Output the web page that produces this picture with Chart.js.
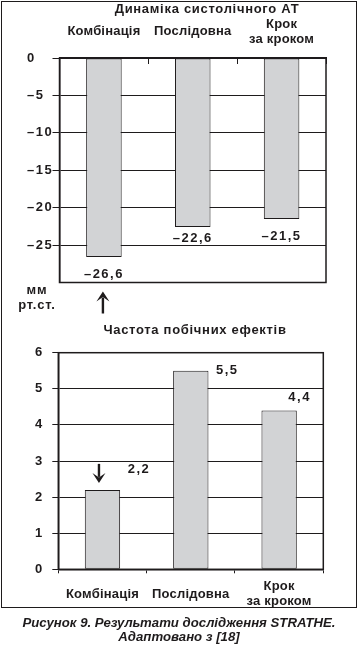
<!DOCTYPE html>
<html><head><meta charset="utf-8">
<script src="https://cdn.jsdelivr.net/npm/chart.js@4.4.1/dist/chart.umd.min.js"></script>
<style>
html,body{margin:0;padding:0;background:#fff;width:358px;height:645px;overflow:hidden;}
#frame{position:absolute;left:1px;top:1px;width:356px;height:607px;border:1.5px solid #1e1b1c;box-sizing:border-box;}
#c1{position:absolute;left:0;top:0;}
#c2{position:absolute;left:0;top:310px;}
#cap{position:absolute;left:0;top:616px;width:358px;text-align:center;font:italic bold 13.2px "Liberation Sans",Arial,sans-serif;line-height:14px;color:#1e1b1c;}
</style></head><body>
<div id="frame"></div>
<canvas id="c1" width="358" height="320" style="width:358px;height:320px"></canvas>
<canvas id="c2" width="358" height="300" style="width:358px;height:300px"></canvas>
<div id="cap">Рисунок 9. Результати дослідження STRATHE.<br>Адаптовано з [18]</div>
<script>
// ---- data ----
const categories = ['Комбінація', 'Послідовна', 'Крок\nза кроком'];
const bpChange = [-26.6, -22.6, -21.5];          // мм рт.ст.
const sideEffects = [2.2, 5.5, 4.4];             // частота побічних ефектів
const bpTitle = 'Динаміка систолічного АТ';
const seTitle = 'Частота побічних ефектів';
const unitLabel = ['мм', 'рт.ст.'];

const INK = '#1e1b1c';
const BAR = '#d2d3d5';
const FONT = '"Liberation Sans", Arial, sans-serif';
const labels = categories.map(c => c.split('\n'));
const fmt = v => String(v).replace('.', ',').replace('-', '–');

function spacingPlugin(id) {
  return {
    id: id,
    beforeDraw(chart) {
      chart.ctx.letterSpacing = '0.2px';
      const s = chart.scales.y;
      if (s && !s.__wrapped) {
        const orig = s.drawLabels;
        s.drawLabels = function (a) {
          const c = this.ctx; c.save(); c.letterSpacing = '1.5px'; orig.call(this, a); c.restore();
        };
        s.__wrapped = true;
      }
    }
  };
}
function boxPlugin(id) {
  return {
    id: id,
    afterDatasetsDraw(chart) {
      const {ctx, chartArea: a} = chart;
      ctx.save();
      ctx.strokeStyle = INK; ctx.lineWidth = 1.5;
      ctx.strokeRect(a.left, a.top, a.right - a.left, a.bottom - a.top);
      ctx.restore();
    }
  };
}
function arrow(ctx, x, yTail, yTip) {
  const dir = yTip > yTail ? 1 : -1;
  const headLen = 10, headHalf = 6.5;
  ctx.save();
  ctx.strokeStyle = INK; ctx.fillStyle = INK; ctx.lineWidth = 2.4;
  ctx.beginPath(); ctx.moveTo(x, yTail); ctx.lineTo(x, yTip - dir * headLen * 0.6); ctx.stroke();
  ctx.beginPath();
  ctx.moveTo(x, yTip);
  ctx.lineTo(x - headHalf, yTip - dir * headLen);
  ctx.lineTo(x, yTip - dir * headLen * 0.55);
  ctx.lineTo(x + headHalf, yTip - dir * headLen);
  ctx.closePath(); ctx.fill();
  ctx.restore();
}

const tickFont = {family: FONT, size: 13, weight: 'bold', lineHeight: '15px'};

// ---- top chart ----
const topAnno = {
  id: 'topAnno',
  afterDraw(chart) {
    const {ctx, chartArea: a} = chart;
    const meta = chart.getDatasetMeta(0);
    ctx.save();
    ctx.fillStyle = INK;
    ctx.textAlign = 'center'; ctx.textBaseline = 'middle';
    ctx.letterSpacing = '0.7px';
    ctx.font = 'bold 13px ' + FONT;
    ctx.fillText(bpTitle, 207, 9);
    ctx.letterSpacing = '0.8px';
    ctx.fillText(unitLabel[0], a.left - 22.5, a.bottom + 8);
    ctx.fillText(unitLabel[1], a.left - 22.5, a.bottom + 22.5);
    ctx.letterSpacing = '1.5px';
    const dy = [17, 11, 18];
    meta.data.forEach((bar, i) => {
      ctx.fillText(fmt(bpChange[i]), bar.x, bar.y + dy[i]);
    });
    ctx.restore();
    const b0 = meta.data[0];
    arrow(ctx, b0.x - 1, a.bottom + 31, a.bottom + 9);
  }
};

new Chart(document.getElementById('c1'), {
  type: 'bar',
  data: {
    labels: labels,
    datasets: [{
      data: bpChange, backgroundColor: BAR, borderColor: INK, borderWidth: 1,
      borderSkipped: false, barPercentage: 0.4, categoryPercentage: 1
    }]
  },
  options: {
    responsive: false, animation: false, devicePixelRatio: 1,
    layout: {padding: {left: 27, right: 32, top: 0, bottom: 37.5}},
    plugins: {legend: {display: false}, tooltip: {enabled: false}, title: {display: false}},
    scales: {
      x: {
        position: 'top',
        grid: {drawOnChartArea: false, color: INK, tickLength: -6, lineWidth: 1},
        border: {color: INK, width: 1.5},
        ticks: {font: tickFont, color: INK, padding: 25, crossAlign: 'center', maxRotation: 0, autoSkip: false},
        afterFit(s) { s.height = 58; }
      },
      y: {
        min: -30, max: 0,
        ticks: {stepSize: 5, callback: v => v === -30 ? '' : fmt(v), crossAlign: 'far', font: tickFont, color: INK},
        grid: {color: c => (c.tick && c.tick.value === -30) ? 'rgba(0,0,0,0)' : INK, tickLength: 7, lineWidth: 1},
        border: {color: INK, width: 1.5},
        afterFit(s) { s.width = 32.5; }
      }
    }
  },
  plugins: [spacingPlugin('sp1'), boxPlugin('bx1'), topAnno]
});

// ---- bottom chart ----
const botAnno = {
  id: 'botAnno',
  afterDraw(chart) {
    const {ctx, chartArea: a} = chart;
    const meta = chart.getDatasetMeta(0);
    ctx.save();
    ctx.fillStyle = INK;
    ctx.textAlign = 'center'; ctx.textBaseline = 'middle';
    ctx.letterSpacing = '0.7px';
    ctx.font = 'bold 13px ' + FONT;
    ctx.fillText(seTitle, 195, 20);
    ctx.letterSpacing = '1.5px';
    const dx = [36.5, 36.5, 20.5], dy = [-20, 0, -13.5];
    meta.data.forEach((bar, i) => {
      ctx.fillText(fmt(sideEffects[i]), bar.x + dx[i], bar.y + dy[i]);
    });
    ctx.restore();
    const b0 = meta.data[0];
    arrow(ctx, b0.x - 3.5, b0.y - 26, b0.y - 7);
  }
};

new Chart(document.getElementById('c2'), {
  type: 'bar',
  data: {
    labels: labels,
    datasets: [{
      data: sideEffects, backgroundColor: BAR, borderColor: INK, borderWidth: 1,
      borderSkipped: false, barPercentage: 0.4, categoryPercentage: 1
    }]
  },
  options: {
    responsive: false, animation: false, devicePixelRatio: 1,
    layout: {padding: {left: 35, right: 34.7, top: 42.7, bottom: 0}},
    plugins: {legend: {display: false}, tooltip: {enabled: false}, title: {display: false}},
    scales: {
      x: {
        position: 'bottom',
        grid: {drawOnChartArea: false, color: INK, tickLength: 4, lineWidth: 1},
        border: {color: INK, width: 1.5},
        ticks: {font: tickFont, color: INK, padding: 13.5, crossAlign: 'center', maxRotation: 0, autoSkip: false},
        afterFit(s) { s.height = 40.7; }
      },
      y: {
        min: 0, max: 6,
        ticks: {stepSize: 1, callback: v => fmt(v), crossAlign: 'far', font: tickFont, color: INK},
        grid: {color: INK, tickLength: 6, lineWidth: 1},
        border: {color: INK, width: 1.5},
        afterFit(s) { s.width = 23.3; }
      }
    }
  },
  plugins: [spacingPlugin('sp2'), boxPlugin('bx2'), botAnno]
});
</script>
</body></html>
